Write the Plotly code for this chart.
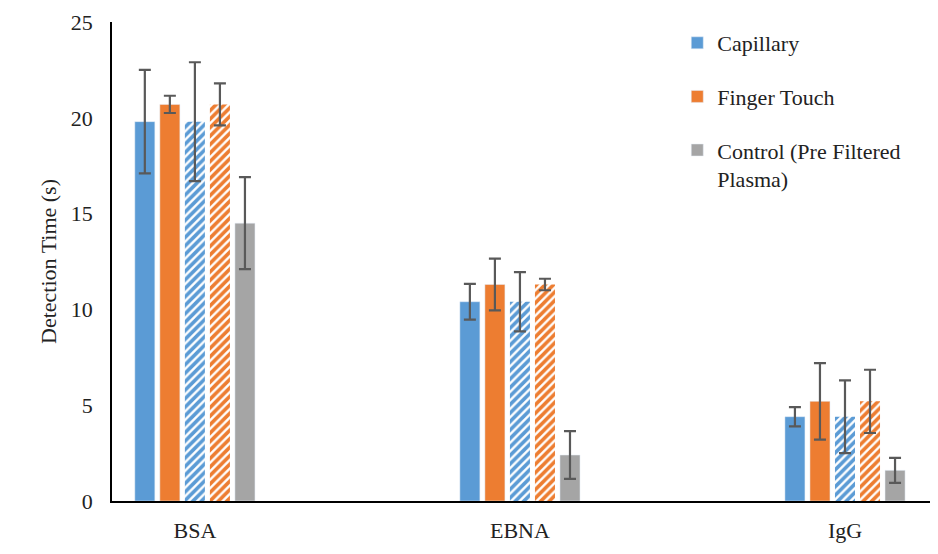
import plotly.graph_objects as go

categories = ["BSA", "EBNA", "IgG"]
capillary = [19.8, 10.4, 4.4]
capillary_err = [2.7, 0.93, 0.5]
finger = [20.7, 11.3, 5.2]
finger_err = [0.45, 1.35, 2.0]
capillary_h = [19.8, 10.4, 4.4]
capillary_h_err = [3.1, 1.55, 1.9]
finger_h = [20.7, 11.3, 5.2]
finger_h_err = [1.1, 0.3, 1.65]
control = [14.5, 2.4, 1.6]
control_err = [2.4, 1.25, 0.65]

BLUE = "#5B9BD5"
ORANGE = "#ED7D31"
GRAY = "#A5A5A5"
ERRC = "#595959"

def err(vals):
    return dict(type="data", array=vals, visible=True, color=ERRC, thickness=2.2, width=6)

fig = go.Figure()
fig.add_trace(go.Bar(x=categories, y=capillary, name="Capillary", marker_color=BLUE,
                     error_y=err(capillary_err), legendgroup="a"))
fig.add_trace(go.Bar(x=categories, y=finger, name="Finger Touch", marker_color=ORANGE,
                     error_y=err(finger_err), legendgroup="b"))
fig.add_trace(go.Bar(x=categories, y=capillary_h, name="Capillary (hatched)", showlegend=False,
                     marker=dict(color="white", line=dict(width=0),
                                 pattern=dict(shape="/", fgcolor=BLUE, bgcolor="white", fgopacity=1,
                                              size=6, solidity=0.6)),
                     error_y=err(capillary_h_err)))
fig.add_trace(go.Bar(x=categories, y=finger_h, name="Finger Touch (hatched)", showlegend=False,
                     marker=dict(color="white", line=dict(width=0),
                                 pattern=dict(shape="/", fgcolor=ORANGE, bgcolor="white", fgopacity=1,
                                              size=6, solidity=0.6)),
                     error_y=err(finger_h_err)))
fig.add_trace(go.Bar(x=categories, y=control, name="Control (Pre Filtered<br>Plasma)", marker_color=GRAY,
                     error_y=err(control_err), legendgroup="c"))

FONT = "'Times New Roman', 'Liberation Serif', serif"
FS = 22
fig.update_layout(
    width=930, height=546,
    margin=dict(l=104, r=2, t=9, b=53),
    paper_bgcolor="white", plot_bgcolor="white",
    barmode="group", bargap=0.615, bargroupgap=0.2,
    font=dict(family=FONT, size=FS, color="#222222"),
    showlegend=True,
    legend=dict(x=0.686, y=1.0, xanchor="left", yanchor="top",
                font=dict(family=FONT, size=FS, color="#222222"),
                tracegroupgap=22, valign="top", bgcolor="rgba(0,0,0,0)"),
    xaxis=dict(type="category", range=[-0.255, 2.28], showline=True, linecolor="black", linewidth=2,
               ticks="", showgrid=False, tickfont=dict(family=FONT, size=FS), ticklabelstandoff=9),
    yaxis=dict(range=[0, 25], dtick=5, showline=True, linecolor="black", linewidth=1.5,
               ticks="", showgrid=False, zeroline=False, tickfont=dict(family=FONT, size=FS),
               ticklabelstandoff=13, ticklabeloverflow="allow",
               title=dict(text="Detection Time (s)", font=dict(family=FONT, size=FS), standoff=8)),
)

fig.write_html("out.html")
